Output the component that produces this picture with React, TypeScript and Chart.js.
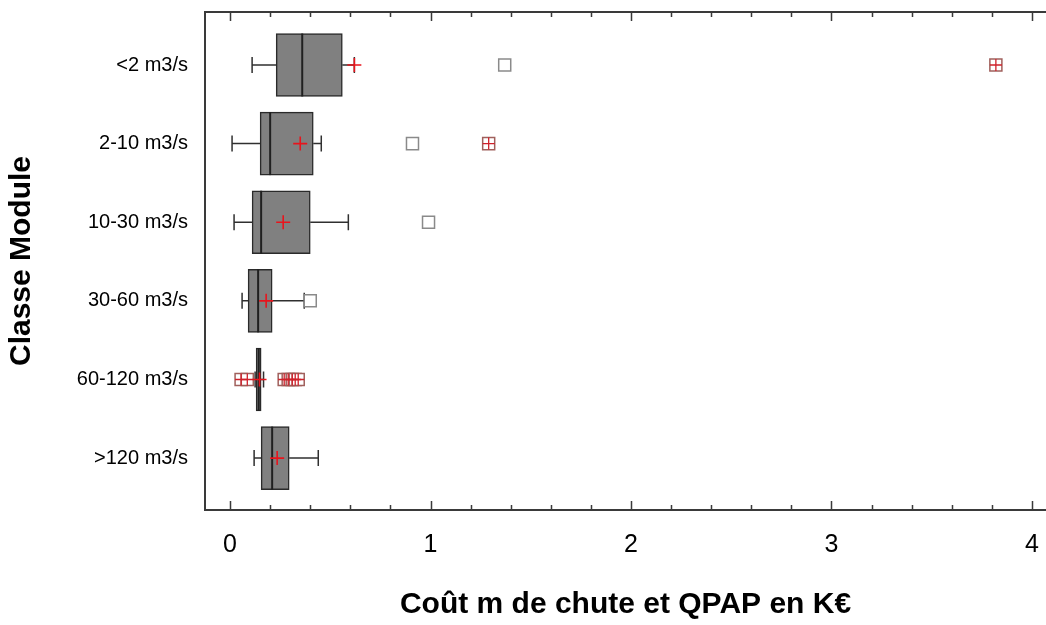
import React, { useEffect, useRef } from 'react';
import { Chart, registerables } from 'chart.js';

Chart.register(...registerables);

// ---- data ----
const categories = ['<2 m3/s', '2-10 m3/s', '10-30 m3/s', '30-60 m3/s', '60-120 m3/s', '>120 m3/s'];
const q1 = [0.23, 0.15, 0.11, 0.09, 0.13, 0.155];
const medians = [0.36, 0.2, 0.155, 0.14, 0.143, 0.21];
const q3 = [0.56, 0.415, 0.4, 0.21, 0.155, 0.295];
const whiskerLow = [0.11, 0.01, 0.02, 0.06, 0.125, 0.12];
const whiskerHigh = [0.62, 0.455, 0.59, 0.37, 0.167, 0.44];
const means = [0.62, 0.35, 0.265, 0.18, 0.147, 0.235];
// outliers: [value, category index]
const outliers: [number, number][] = [
  [1.37, 0],
  [0.91, 1],
  [0.99, 2],
  [0.4, 3],
];
const farOutliers: [number, number][] = [
  [3.82, 0],
  [1.29, 1],
  [0.055, 4],
  [0.086, 4],
  [0.27, 4],
  [0.29, 4],
  [0.31, 4],
  [0.325, 4],
  [0.34, 4],
];
const xTickLabels = [0, 1, 2, 3, 4];
const xMinorStep = 0.2;
const xTitle = 'Coût m de chute et QPAP en K€';
const yTitle = 'Classe Module';

const FONT = "'Liberation Sans', Arial, Helvetica, sans-serif";

export default function App() {
  const ref = useRef<HTMLCanvasElement>(null);

  useEffect(() => {
    const canvas = ref.current!;

    const boxExtras = {
      id: 'boxExtras',
      beforeDatasetsDraw(chart: any) {
        const { ctx, scales } = chart;
        const x = scales.x, y = scales.y;
        ctx.save();
        ctx.strokeStyle = '#303030';
        ctx.lineWidth = 1.5;
        const cap = 8;
        categories.forEach((_, i) => {
          const py = y.getPixelForValue(i);
          const pl = x.getPixelForValue(whiskerLow[i]);
          const ph = x.getPixelForValue(whiskerHigh[i]);
          const b1 = x.getPixelForValue(q1[i]);
          const b3 = x.getPixelForValue(q3[i]);
          ctx.beginPath();
          ctx.moveTo(pl, py); ctx.lineTo(b1, py);
          ctx.moveTo(b3, py); ctx.lineTo(ph, py);
          ctx.moveTo(pl, py - cap); ctx.lineTo(pl, py + cap);
          ctx.moveTo(ph, py - cap); ctx.lineTo(ph, py + cap);
          ctx.stroke();
        });
        ctx.restore();
      },
      afterDatasetDraw(chart: any, args: any) {
        if (args.index !== 0) return;
        const { ctx, scales } = chart;
        const x = scales.x, y = scales.y;
        const meta = chart.getDatasetMeta(0);
        ctx.save();
        ctx.strokeStyle = '#202020';
        ctx.lineWidth = 2;
        categories.forEach((_, i) => {
          const bar = meta.data[i];
          const h = bar.height / 2;
          const py = y.getPixelForValue(i);
          const pm = x.getPixelForValue(medians[i]);
          ctx.beginPath();
          ctx.moveTo(pm, py - h); ctx.lineTo(pm, py + h);
          ctx.stroke();
        });
        ctx.restore();
      },
      afterDraw(chart: any) {
        const { ctx, chartArea: a, scales } = chart;
        const x = scales.x;
        ctx.save();
        ctx.strokeStyle = '#3a3a3a';
        ctx.lineWidth = 2;
        ctx.beginPath();
        ctx.moveTo(a.right + 20, a.top); ctx.lineTo(a.left, a.top);
        ctx.lineTo(a.left, a.bottom); ctx.lineTo(a.right + 20, a.bottom);
        ctx.stroke();
        ctx.lineWidth = 1.5;
        ctx.beginPath();
        const n = Math.round((xTickLabels[xTickLabels.length - 1] - xTickLabels[0]) / xMinorStep);
        for (let k = 0; k <= n; k++) {
          const v = xTickLabels[0] + k * xMinorStep;
          const major = xTickLabels.some((t) => Math.abs(t - v) < 1e-6);
          const len = major ? 9 : 5;
          const px = Math.round(x.getPixelForValue(v)) + 0.5;
          ctx.moveTo(px, a.bottom); ctx.lineTo(px, a.bottom - len);
          ctx.moveTo(px, a.top); ctx.lineTo(px, a.top + len);
        }
        ctx.stroke();
        ctx.restore();
      },
    };

    const chart = new Chart(canvas, {
      type: 'bar',
      data: {
        datasets: [
          {
            type: 'bar',
            label: 'box',
            data: categories.map((_, i) => ({ x: [q1[i], q3[i]], y: i })) as any,
            backgroundColor: '#808080',
            borderColor: '#2a2a2a',
            borderWidth: 1.5,
            borderSkipped: false,
            barThickness: 63,
            order: 4,
          } as any,
          {
            type: 'scatter',
            label: 'outliers',
            data: outliers.map(([v, i]) => ({ x: v, y: i })),
            pointStyle: 'rect',
            pointRadius: 8.5,
            backgroundColor: '#ffffff',
            borderColor: '#8a8a8a',
            borderWidth: 1.5,
            order: 3,
          } as any,
          {
            type: 'scatter',
            label: 'far',
            data: farOutliers.map(([v, i]) => ({ x: v, y: i })),
            pointStyle: 'rect',
            pointRadius: 8.5,
            backgroundColor: '#ffffff',
            borderColor: '#a0605c',
            borderWidth: 1.5,
            order: 2,
          } as any,
          {
            type: 'scatter',
            label: 'farCross',
            data: farOutliers.map(([v, i]) => ({ x: v, y: i })),
            pointStyle: 'cross',
            pointRadius: 6,
            borderColor: '#d0202a',
            borderWidth: 1.3,
            order: 1,
          } as any,
          {
            type: 'scatter',
            label: 'mean',
            data: means.map((v, i) => ({ x: v, y: i })),
            pointStyle: 'cross',
            pointRadius: 7,
            borderColor: '#e8141c',
            borderWidth: 1.6,
            order: 0,
          } as any,
        ],
      },
      options: {
        indexAxis: 'y',
        responsive: false,
        animation: false,
        layout: { autoPadding: false, padding: { top: 12, right: 0, left: 0, bottom: 0 } },
        plugins: {
          legend: { display: false },
          tooltip: { enabled: false },
        },
        scales: {
          x: {
            type: 'linear',
            position: 'bottom',
            min: -0.125,
            max: 4.07,
            offset: false,
            grid: { display: false, drawTicks: true, tickLength: 20, offset: false },
            border: { display: false },
            afterBuildTicks: (s: any) => {
              s.ticks = xTickLabels.map((v) => ({ value: v }));
            },
            afterFit: (s: any) => {
              s.height = 115;
              s.paddingLeft = 0;
              s.paddingRight = 0;
            },
            ticks: {
              color: '#000',
              font: { family: FONT, size: 25 },
              padding: 0,
              maxRotation: 0,
              callback: (v: any) => String(v),
            },
            title: {
              display: true,
              text: xTitle,
              color: '#000',
              font: { family: FONT, size: 30, weight: 'bold' },
              padding: { top: 0, bottom: 2 },
            },
          },
          y: {
            type: 'linear',
            reverse: true,
            min: -0.674,
            max: 5.66,
            offset: false,
            grid: { display: false, drawTicks: false, offset: false },
            border: { display: false },
            afterBuildTicks: (s: any) => {
              s.ticks = categories.map((_, i) => ({ value: i }));
            },
            afterFit: (s: any) => {
              s.width = 205;
              s.paddingTop = 0;
              s.paddingBottom = 0;
            },
            ticks: {
              color: '#000',
              font: { family: FONT, size: 20 },
              padding: 17,
              callback: (v: any) => categories[v] ?? '',
            },
            title: {
              display: true,
              text: yTitle,
              color: '#000',
              font: { family: FONT, size: 30, weight: 'bold' },
              padding: { top: 4, bottom: 0 },
            },
          },
        },
      } as any,
      plugins: [boxExtras],
    });

    return () => chart.destroy();
  }, []);

  return (
    <div style={{ position: 'fixed', left: 0, top: 0, width: 1046, height: 625, background: '#fff' }}>
      <canvas ref={ref} width={1046} height={625} style={{ width: 1046, height: 625, display: 'block' }} />
    </div>
  );
}
